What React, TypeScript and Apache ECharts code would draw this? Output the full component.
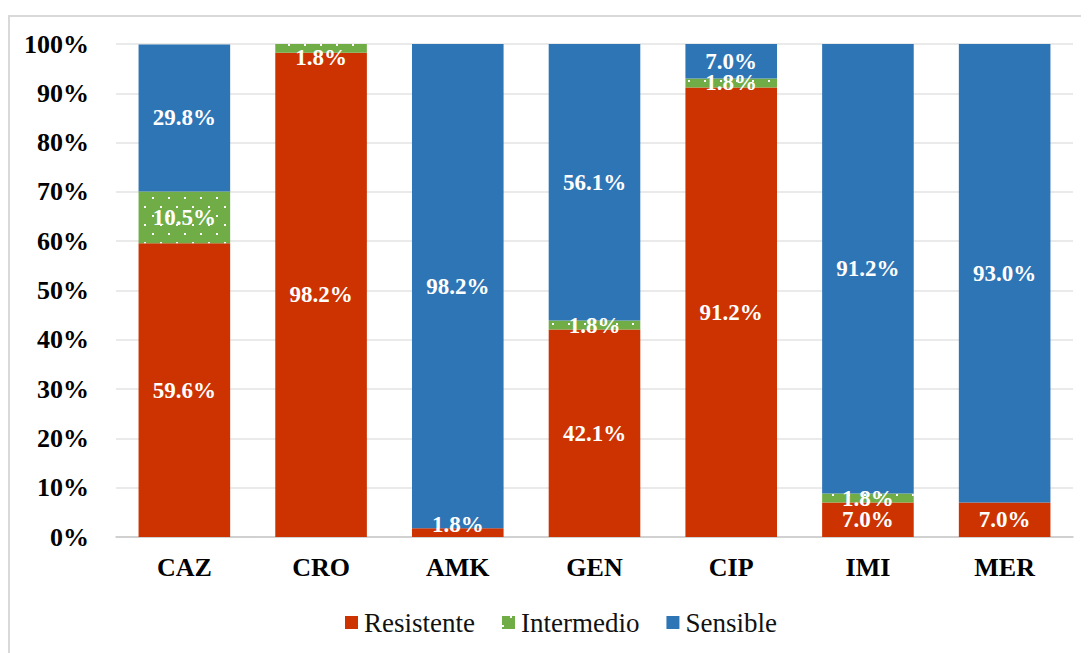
import React, { useEffect, useRef } from "react";
import * as echarts from "echarts";

const categories = ["CAZ", "CRO", "AMK", "GEN", "CIP", "IMI", "MER"];
const resistente = [59.6, 98.2, 1.8, 42.1, 91.2, 7.0, 7.0];
const intermedio = [10.5, 1.8, 0, 1.8, 1.8, 1.8, 0];
const sensible = [29.8, 0, 98.2, 56.1, 7.0, 91.2, 93.0];
const yTicks = [0, 10, 20, 30, 40, 50, 60, 70, 80, 90, 100];

const FONT = "Liberation Serif";

export default function App() {
  const ref = useRef<HTMLDivElement>(null);
  useEffect(() => {
    if (!ref.current) return;
    const chart = echarts.init(ref.current, null, { renderer: "svg" });
    const label = {
      show: true,
      position: "inside",
      color: "#ffffff",
      fontFamily: FONT,
      fontWeight: "bold",
      fontSize: 23,
      formatter: (p: any) => (p.value ? p.value.toFixed(1) + "%" : ""),
    };
    const mk = (vals: number[], offsets: Record<number, number[]>) =>
      vals.map((v, i) =>
        offsets[i] ? { value: v, label: { offset: offsets[i] } } : v
      );
    chart.setOption({
      animation: false,
      graphic: [
        {
          type: "rect",
          shape: { x: 1, y: 8, width: 1200, height: 1000 },
          style: { fill: "none", stroke: "#d9d9d9", lineWidth: 2 },
          silent: true,
        },
      ],
      grid: { left: 108, right: 16, top: 36, bottom: 116 },
      legend: {
        top: 596,
        left: 332,
        itemWidth: 13,
        itemHeight: 13,
        itemGap: 27,
        icon: "rect",
        textStyle: { fontFamily: FONT, fontSize: 27, color: "#111", padding: [0, 0, 0, 1] },
        data: ["Resistente", "Intermedio", "Sensible"],
      },
      xAxis: {
        type: "category",
        data: categories,
        axisTick: { show: false },
        axisLine: { lineStyle: { color: "#c8c8c8", width: 1.5 } },
        axisLabel: {
          fontFamily: FONT,
          fontWeight: "bold",
          fontSize: 26,
          color: "#000",
          margin: 17,
        },
      },
      yAxis: {
        type: "value",
        min: 0,
        max: 100,
        interval: 10,
        axisLine: { show: false },
        axisTick: { show: false },
        splitLine: { lineStyle: { color: "#e3e3e3", width: 1.5 } },
        axisLabel: {
          fontFamily: FONT,
          fontWeight: "bold",
          fontSize: 26,
          color: "#000",
          margin: 27,
          formatter: (v: number) => (yTicks.includes(v) ? v + "%" : ""),
        },
      },
      series: [
        {
          name: "Resistente",
          type: "bar",
          stack: "t",
          barWidth: "67%",
          itemStyle: { color: "#CC3300" },
          label,
          data: mk(resistente, { 2: [0, -8] }),
        },
        {
          name: "Intermedio",
          type: "bar",
          stack: "t",
          itemStyle: {
            color: "#70AD47",
            decal: {
              symbol: "rect",
              symbolSize: 1,
              color: "#ffffff",
              dashArrayX: [
                [2, 14],
                [0, 8, 2, 6],
              ],
              dashArrayY: [2, 6.5],
            },
          },
          label,
          data: mk(intermedio, { 1: [0, 9] }),
        },
        {
          name: "Sensible",
          type: "bar",
          stack: "t",
          itemStyle: { color: "#2E75B6" },
          label,
          data: sensible,
        },
      ],
    });
    return () => chart.dispose();
  }, []);
  return <div ref={ref} style={{ width: 1081, height: 645 }} />;
}
